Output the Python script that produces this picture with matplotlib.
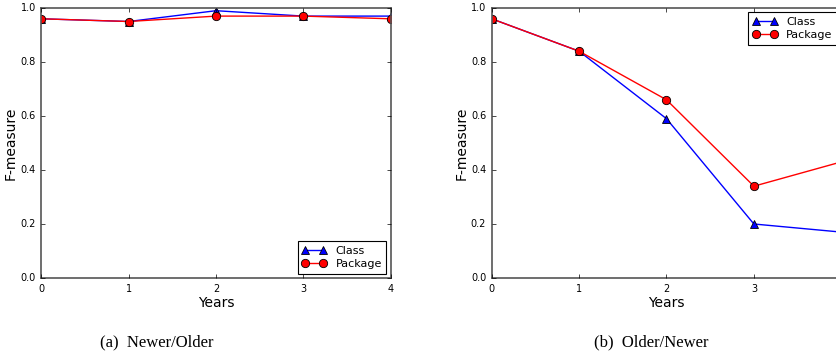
import numpy as np
import matplotlib
matplotlib.use("Agg")
import matplotlib.pyplot as plt

plt.style.use("classic")

# ── Data ─────────────────────────────────────────────────────────────────────
years = [0, 1, 2, 3, 4]
newer_older_class   = [0.96, 0.95, 0.99, 0.97, 0.97]
newer_older_package = [0.96, 0.95, 0.97, 0.97, 0.96]
older_newer_class   = [0.96, 0.84, 0.59, 0.20, 0.17]
older_newer_package = [0.96, 0.84, 0.66, 0.34, 0.43]
captions = ["(a)  Newer/Older", "(b)  Older/Newer"]

W, H = 837, 356
fig = plt.figure(figsize=(W / 100, H / 100), dpi=100, facecolor="white")

def px_axes(x0, x1, y0, y1):
    return fig.add_axes([x0 / W, 1 - y1 / H, (x1 - x0) / W, (y1 - y0) / H])

ax_a = px_axes(41.3, 390.7, 8, 278)
ax_b = px_axes(491.7, 841.3, 8, 278)

panels = [
    (ax_a, newer_older_class, newer_older_package, "lower right"),
    (ax_b, older_newer_class, older_newer_package, "upper right"),
]

for ax, cls, pkg, loc in panels:
    ax.set_facecolor("white")
    ax.plot(years, cls, color="b", marker="^", markersize=6,
            markeredgecolor="black", markeredgewidth=0.6, lw=1, label="Class")
    ax.plot(years, pkg, color="r", marker="o", markersize=6,
            markeredgecolor="black", markeredgewidth=0.6, lw=1, label="Package")
    ax.set_xlim(0, 4)
    ax.set_ylim(0, 1.0)
    ax.set_xticks(years)
    ax.set_yticks(np.arange(0, 1.01, 0.2))
    ax.tick_params(labelsize=7, direction="in", length=3, top=True, right=True)
    ax.set_xlabel("Years", fontsize=10, labelpad=2)
    ax.set_ylabel("F-measure", fontsize=10)
    ax.yaxis.set_label_coords(-23.5 / 349.4, 0.5)
    for s in ax.spines.values():
        s.set_color("#555555")
        s.set_linewidth(1.2)
    leg = ax.legend(loc=loc, fontsize=8, numpoints=2, borderaxespad=0.4,
                    handlelength=2.2, labelspacing=0.3, fancybox=False)
    leg.get_frame().set_linewidth(0.8)

fig.text(157 / W, 1 - 342 / H, captions[0], ha="center", va="center",
         fontsize=12, family="Liberation Serif")
fig.text(651 / W, 1 - 342 / H, captions[1], ha="center", va="center",
         fontsize=12, family="Liberation Serif")

fig.savefig("out.png", dpi=100, facecolor="white")
